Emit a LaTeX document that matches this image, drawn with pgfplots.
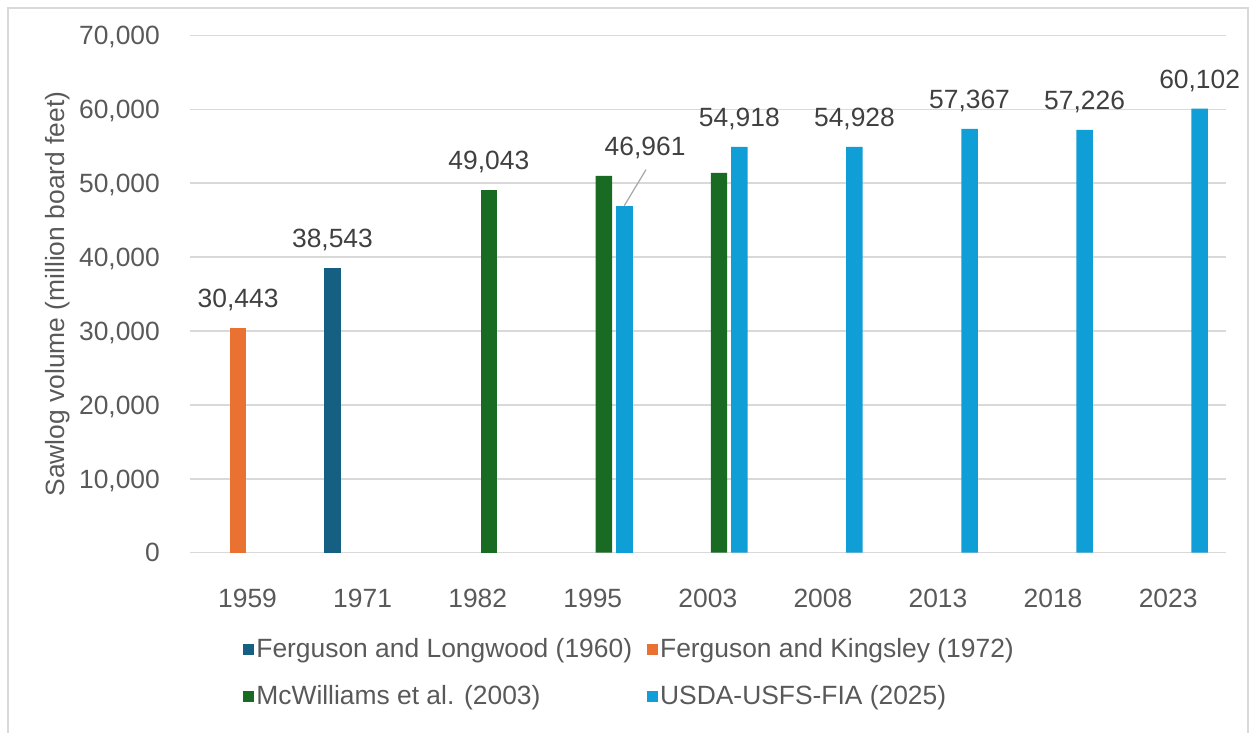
\documentclass[border=0pt]{standalone}
\usepackage{pgfplots}
\pgfplotsset{compat=1.18}
\usepackage{fontspec}
\setmainfont{Liberation Sans}

\definecolor{sDark}{HTML}{156082}
\definecolor{sOrange}{HTML}{E97132}
\definecolor{sGreen}{HTML}{196B24}
\definecolor{sLight}{HTML}{0F9ED5}
\definecolor{tickgray}{HTML}{595959}
\definecolor{labelgray}{HTML}{404040}
\definecolor{gridgray}{HTML}{D9D9D9}
\newcommand\cf{\fontsize{13.2}{15.8}\selectfont}

\pgfplotsset{sqlegend/.style={legend image code/.code={\fill[##1] (0pt,-2.75pt) rectangle (5.5pt,2.75pt);}}}

\begin{document}
\begin{tikzpicture}
\begin{axis}[
  name=ax,
  scale only axis,
  width=517.85pt, height=258.65pt,
  xmin=-0.5, xmax=8.5,
  ymin=0, ymax=70000,
  xtick={0,...,8},
  xticklabels={1959,1971,1982,1995,2003,2008,2013,2018,2023},
  ytick={0,10000,...,70000},
  scaled y ticks=false,
  axis x line=bottom, axis y line=left,
  axis line style={draw=none},
  tick style={draw=none},
  ymajorgrids,
  grid style={gridgray, line width=0.8pt},
  ticklabel style={font=\cf, text=tickgray},
  xticklabel style={inner sep=0pt, anchor=north, yshift=-13.9pt},
  yticklabel style={inner sep=0pt, anchor=east, text depth=0pt, xshift=-12.75pt},
  /pgf/number format/1000 sep={,},
  /pgf/number format/assume math mode=true,
  ylabel={Sawlog volume (million board feet)},
  every axis y label/.style={at={([xshift=-66pt]axis description cs:0,0.5)}, rotate=90, anchor=center, font=\cf, text=tickgray},
  ybar, bar width=0.143,
  every node near coord/.append style={font=\cf, text=labelgray, inner sep=0pt, text depth=0pt, yshift=10pt},
  legend columns=2,
  legend style={at={(axis description cs:0,0)}, anchor=north west, xshift=26.5pt, yshift=-41.8pt,
    draw=none, fill=none, inner sep=0pt, row sep=10.5pt, font=\cf, text=tickgray,
    nodes={inner sep=1pt}, cells={anchor=west},
    /tikz/every even column/.append style={column sep=6.5pt}},
]
\addplot[fill=sDark, draw=none, bar shift=-0.262, sqlegend, nodes near coords] coordinates {(1,38543)};
\addlegendentry{Ferguson and Longwood (1960)}
\addplot[fill=sOrange, draw=none, bar shift=-0.082, sqlegend, nodes near coords] coordinates {(0,30443)};
\addlegendentry{Ferguson and Kingsley (1972)}
\addplot[fill=sGreen, draw=none, bar shift=0.097, sqlegend, nodes near coords] coordinates {(2,49043)};
\addlegendentry{McWilliams et al. (2003)}
\addplot[fill=sLight, draw=none, bar shift=0.274, sqlegend, nodes near coords] coordinates {(4,54918) (5,54928) (6,57367) (7,57226) (8,60102)};
\addlegendentry{USDA-USFS-FIA (2025)}
% unlabeled McWilliams bars
\addplot[fill=sGreen, draw=none, bar shift=0.097, forget plot] coordinates {(3,51000) (4,51400)};
% 1995 FIA bar, label moved up with a leader line
\addplot[fill=sLight, draw=none, bar shift=0.274, forget plot, nodes near coords,
  every node near coord/.append style={xshift=10.4pt, yshift=14.65pt}] coordinates {(3,46961)};
\draw[gray!70, line width=0.6pt] (axis cs:3.274,46961) -- ++(10.85pt,18pt);
\end{axis}
\draw[gridgray, line width=1pt] ([shift={(-91pt,-95pt)}]ax.south west) -- ([shift={(-91pt,272.35pt)}]ax.south west)
  -- ([shift={(529pt,272.35pt)}]ax.south west) -- ([shift={(529pt,-95pt)}]ax.south west);
\pgfresetboundingbox
\path ([shift={(-95pt,-90.15pt)}]ax.south west) rectangle ([shift={(532.5pt,276.35pt)}]ax.south west);
\end{tikzpicture}
\end{document}
